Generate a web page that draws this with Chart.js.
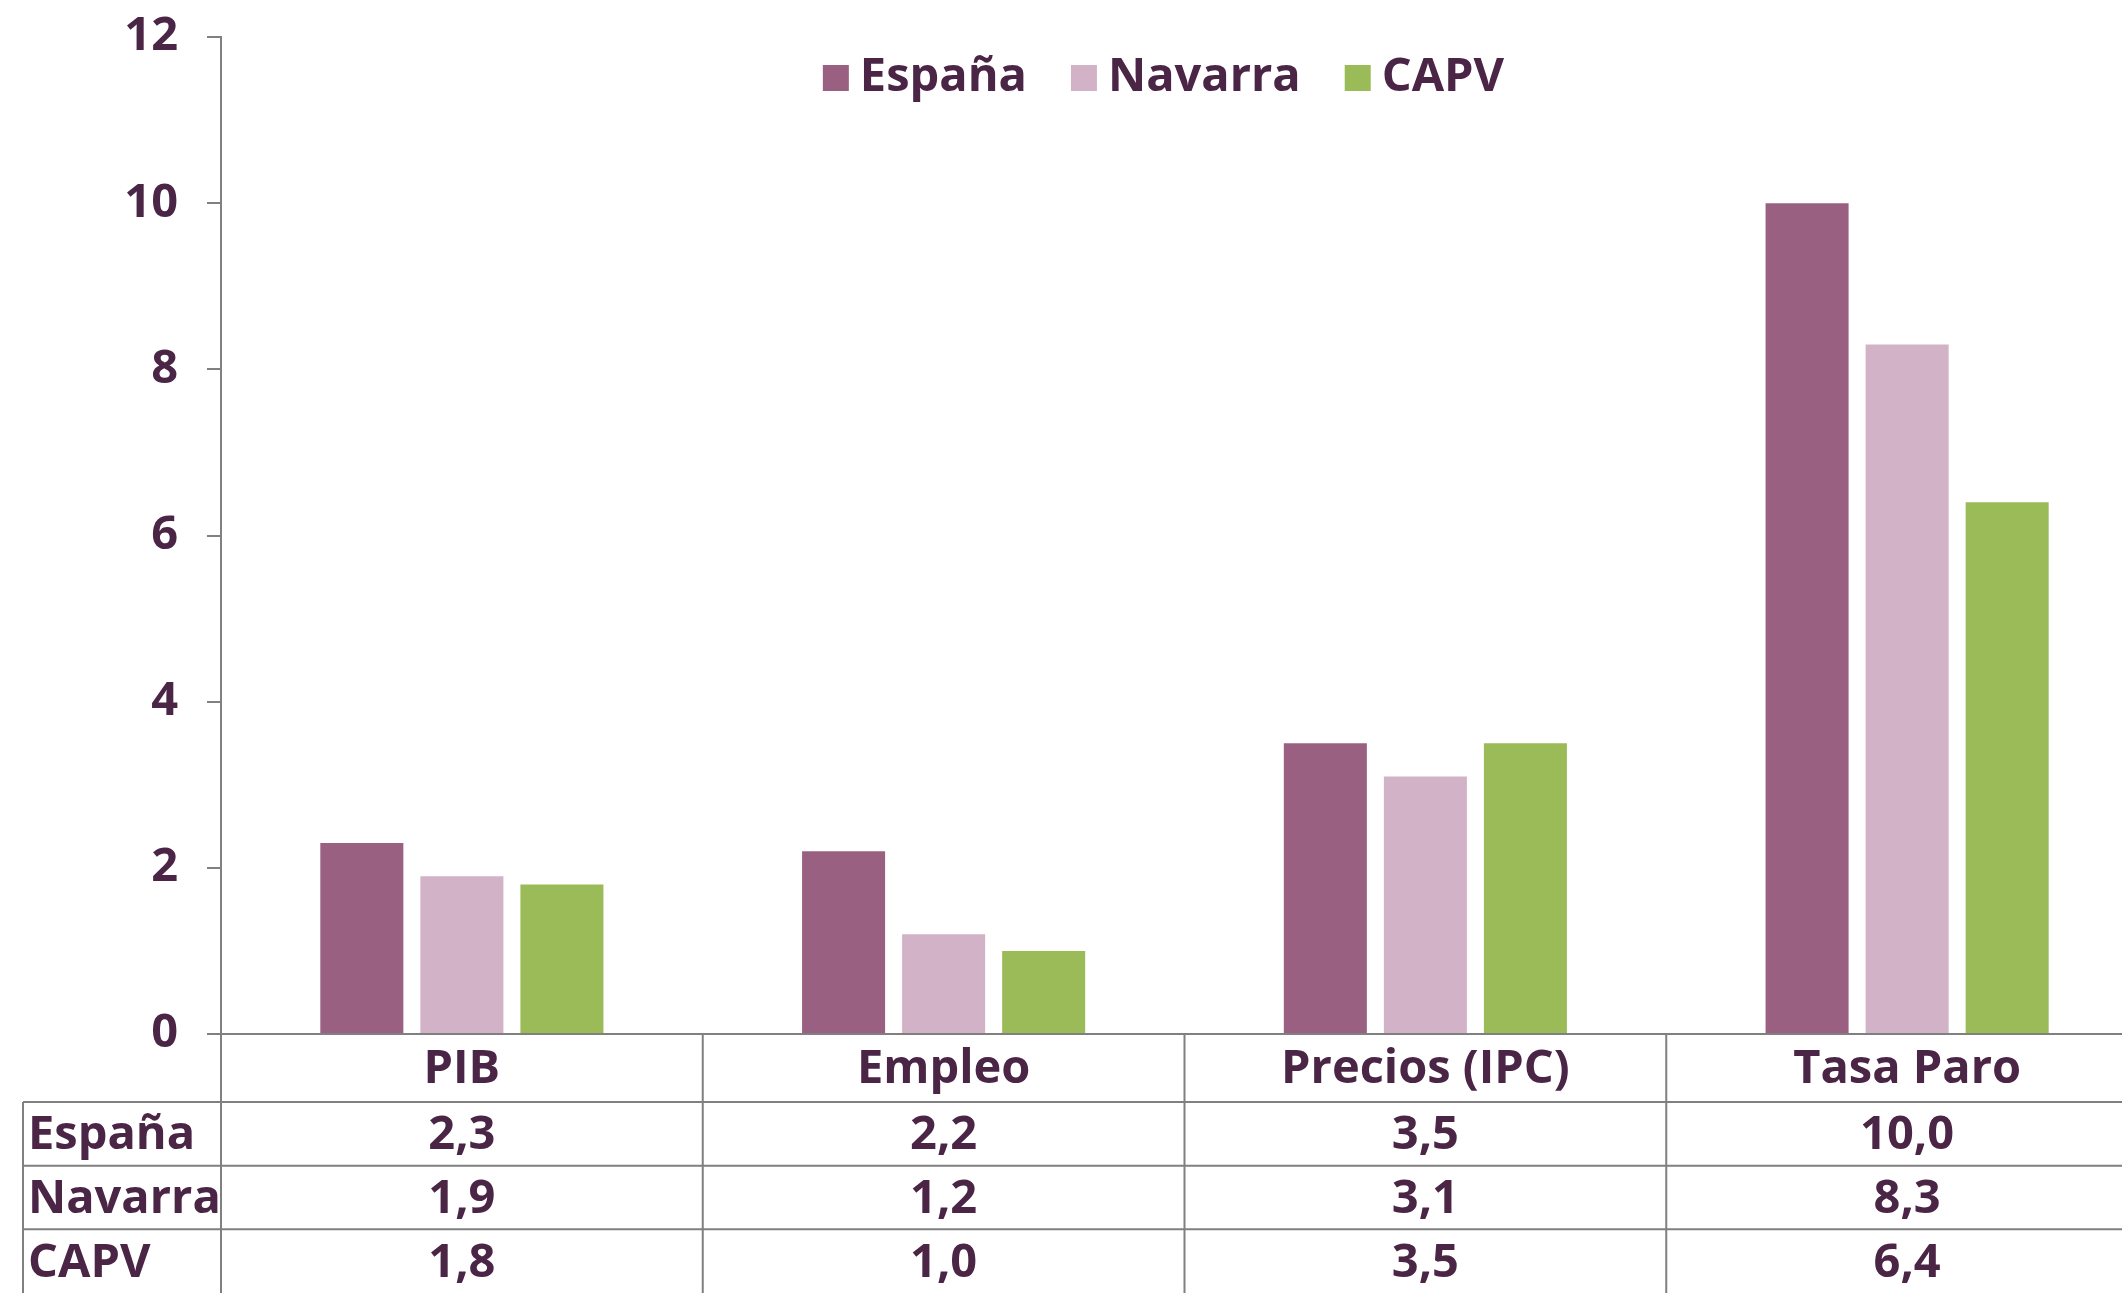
<!DOCTYPE html>
<html>
<head>
<meta charset="utf-8">
<script src="https://cdn.jsdelivr.net/npm/chart.js@4.4.1/dist/chart.umd.min.js"></script>
<style>
  body { margin: 0; background: #fff; }
  canvas { display: block; }
</style>
</head>
<body>
<canvas id="chart" width="2122" height="1293"></canvas>
<script>
const categories = ["PIB", "Empleo", "Precios (IPC)", "Tasa Paro"];
const seriesNames = ["España", "Navarra", "CAPV"];
const espana = [2.3, 2.2, 3.5, 10.0];
const navarra = [1.9, 1.2, 3.1, 8.3];
const capv = [1.8, 1.0, 3.5, 6.4];
const colors = ["#9A6081", "#D2B2C6", "#9BBB59"];

const textColor = "#4A2545";
const lineColor = "#808080";
const fontFamily = "Open Sans";
const font = "bold 47px " + fontFamily;

// the original plot runs a bit past the right edge of the picture
const plotOverflow = 26;

const stretchX = {
    id: "stretchX",
    afterLayout(chart) {
        const x = chart.scales.x;
        x.right = chart.chartArea.right + plotOverflow;
        x.width = x.right - x.left;
        x.configure();
    }
};

// legend + data table under the plot
const tablePlugin = {
    id: "table",
    afterDraw(chart) {
        const ctx = chart.ctx;
        const area = chart.chartArea;
        const x = chart.scales.x;
        const H = chart.height;
        const W = chart.width;
        const catW = (x.right - x.left) / categories.length;
        const rowTop = [area.bottom, area.bottom + 68];
        const rh = (H - rowTop[1]) / 3;
        rowTop.push(rowTop[1] + rh, rowTop[1] + 2 * rh);
        const tableLeft = 23;

        ctx.save();
        ctx.strokeStyle = lineColor;
        ctx.lineWidth = 2;
        ctx.beginPath();
        // axis line
        ctx.moveTo(area.left - 14, area.bottom);
        ctx.lineTo(W, area.bottom);
        for (let r = 1; r < 4; r++) {
            ctx.moveTo(tableLeft, rowTop[r]);
            ctx.lineTo(W, rowTop[r]);
        }
        ctx.moveTo(tableLeft, rowTop[1]);
        ctx.lineTo(tableLeft, H);
        for (let i = 0; i < categories.length; i++) {
            const bx = x.getPixelForValue(i) - catW / 2;
            ctx.moveTo(bx, area.bottom);
            ctx.lineTo(bx, H);
        }
        ctx.stroke();

        ctx.fillStyle = textColor;
        ctx.font = font;
        ctx.textBaseline = "middle";
        ctx.textAlign = "center";
        categories.forEach((c, i) => {
            ctx.fillText(c, x.getPixelForValue(i), (rowTop[0] + rowTop[1]) / 2 + 2);
        });
        chart.data.datasets.forEach((ds, r) => {
            const yMid = rowTop[r + 1] + rh / 2 + 2;
            ctx.textAlign = "left";
            ctx.fillText(ds.label, tableLeft + 5, yMid);
            ctx.textAlign = "center";
            ds.data.forEach((v, i) => {
                ctx.fillText(v.toFixed(1).replace(".", ","), x.getPixelForValue(i), yMid);
            });
        });

        // legend
        const box = 26, gapText = 11, gapItem = 44, ly = 78;
        const widths = chart.data.datasets.map(ds => box + gapText + ctx.measureText(ds.label).width);
        const total = widths.reduce((a, b) => a + b, 0) + gapItem * (widths.length - 1);
        let lx = (area.left + area.right) / 2 - 8 - total / 2;
        ctx.textAlign = "left";
        chart.data.datasets.forEach((ds, i) => {
            ctx.fillStyle = ds.backgroundColor;
            ctx.fillRect(lx, ly - box / 2, box, box);
            ctx.fillStyle = textColor;
            ctx.fillText(ds.label, lx + box + gapText, ly);
            lx += widths[i] + gapItem;
        });
        ctx.restore();
    }
};

new Chart(document.getElementById("chart"), {
    type: "bar",
    data: {
        labels: categories,
        datasets: [
            { label: seriesNames[0], data: espana, backgroundColor: colors[0] },
            { label: seriesNames[1], data: navarra, backgroundColor: colors[1] },
            { label: seriesNames[2], data: capv, backgroundColor: colors[2] },
        ]
    },
    options: {
        responsive: false,
        animation: false,
        devicePixelRatio: 1,
        categoryPercentage: 0.623,
        barPercentage: 0.83,
        layout: { padding: { top: 37, bottom: 259, left: 0, right: 0 } },
        plugins: {
            legend: { display: false },
            tooltip: { enabled: false },
        },
        scales: {
            x: { display: false },
            y: {
                min: 0,
                max: 12,
                ticks: {
                    stepSize: 2,
                    padding: 29,
                    color: textColor,
                    font: { family: fontFamily, size: 47, weight: "bold" },
                },
                grid: {
                    drawOnChartArea: false,
                    tickLength: 14,
                    color: lineColor,
                    lineWidth: 2,
                },
                border: { color: lineColor, width: 2 },
                afterFit(scale) {
                    scale.width = 221;
                    scale.paddingTop = 0;
                    scale.paddingBottom = 0;
                },
            }
        }
    },
    plugins: [stretchX, tablePlugin]
});
</script>
</body>
</html>
